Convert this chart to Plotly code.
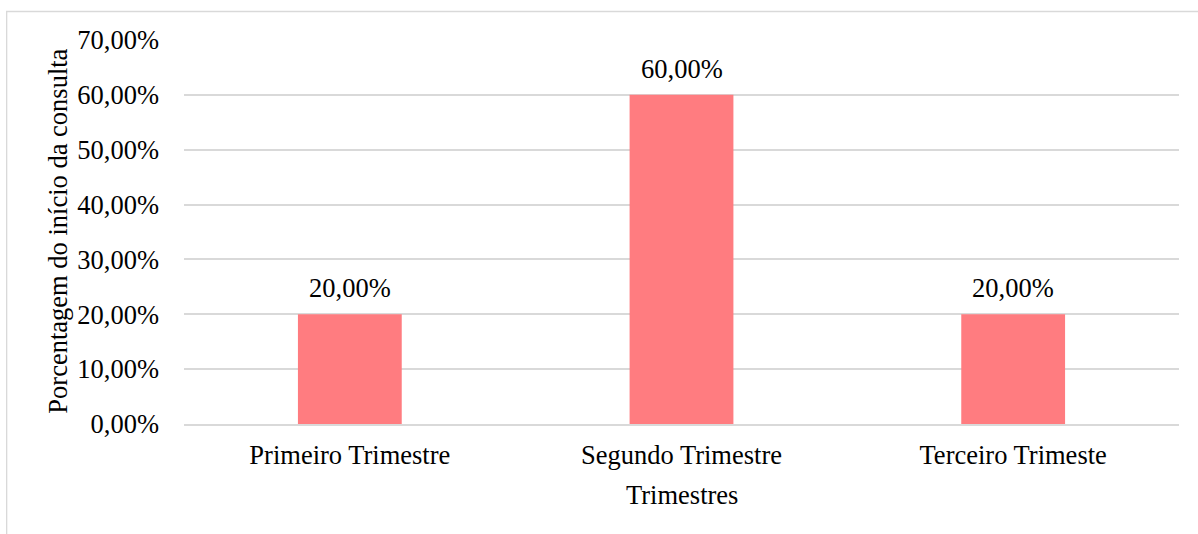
import plotly.graph_objects as go

categorias = ["Primeiro Trimestre", "Segundo Trimestre", "Terceiro Trimeste"]
percentuais = [0.20, 0.60, 0.20]
ticks_y = [0, 0.1, 0.2, 0.3, 0.4, 0.5, 0.6, 0.7]

FONTE = "Liberation Serif, Times New Roman, serif"
TAM = 26.5


def pct_br(v):
    return f"{v * 100:.2f}%".replace(".", ",")


fig = go.Figure(
    go.Bar(
        x=categorias,
        y=percentuais,
        marker=dict(color="#FF7C80", line=dict(width=0)),
        width=0.313,
    )
)

# Value labels above each bar
for cat, v in zip(categorias, percentuais):
    fig.add_annotation(
        x=cat, y=v, text=pct_br(v),
        showarrow=False, yanchor="bottom", yshift=9,
        font=dict(family=FONTE, size=TAM, color="#000000"),
    )

fig.update_layout(
    width=1198,
    height=534,
    margin=dict(l=184, r=19, t=40, b=110),
    paper_bgcolor="white",
    plot_bgcolor="white",
    separators=",.",
    font=dict(family=FONTE, size=TAM, color="#000000"),
    showlegend=False,
)

fig.update_yaxes(
    range=[0, 0.7],
    tickvals=ticks_y,
    tickformat=".2%",
    showgrid=True,
    gridcolor="#D9D9D9",
    gridwidth=1.5,
    zeroline=False,
    showline=False,
    ticks="",
    ticklabelstandoff=24,
    tickfont=dict(family=FONTE, size=TAM),
)

fig.update_xaxes(
    showgrid=False,
    showline=True,
    linecolor="#D9D9D9",
    linewidth=1.5,
    ticks="",
    ticklabelstandoff=6,
    tickfont=dict(family=FONTE, size=TAM),
)

# Axis titles
fig.add_annotation(
    text="Porcentagem do início da consulta",
    xref="paper", yref="paper",
    x=-(184 - 57) / 996, y=1 - (231.5 - 40) / 384,
    textangle=-90, showarrow=False,
    font=dict(family=FONTE, size=TAM),
    xanchor="center", yanchor="middle",
)
fig.add_annotation(
    text="Trimestres",
    xref="paper", yref="paper",
    x=0.5, y=-(495 - 424) / 384,
    showarrow=False,
    font=dict(family=FONTE, size=TAM),
    xanchor="center", yanchor="middle",
)

# Chart frame
fig.add_shape(
    type="rect", xref="paper", yref="paper",
    x0=-(184 - 6.5) / 996, x1=1.2,
    y0=-0.6, y1=1 + (40 - 11.5) / 384,
    line=dict(color="#D9D9D9", width=1.3),
    layer="below",
)

fig.write_html("out.html")
